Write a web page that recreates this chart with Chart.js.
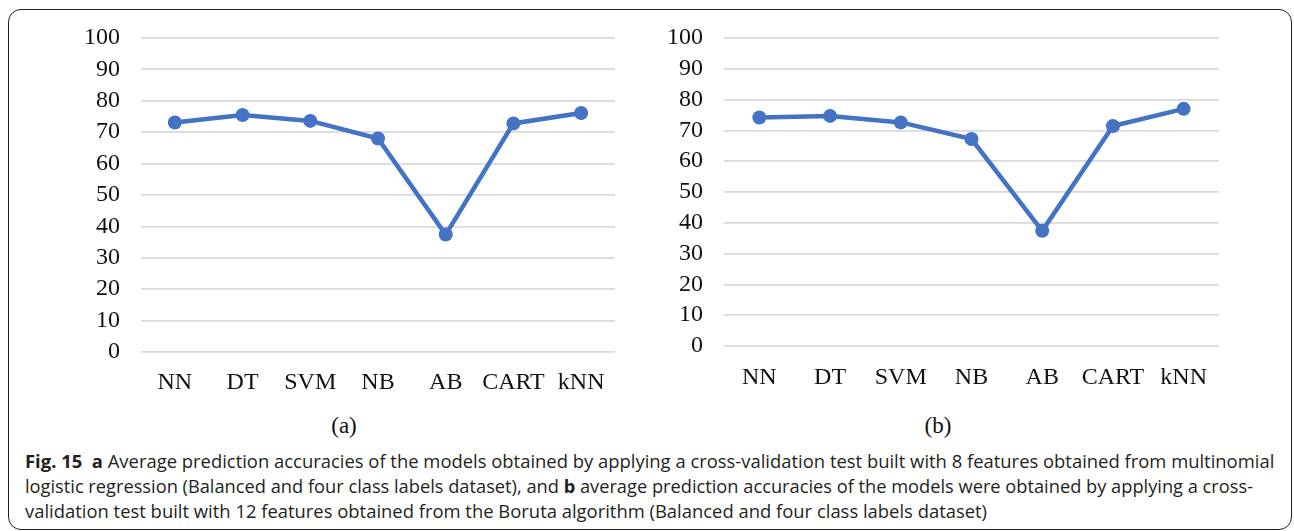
<!DOCTYPE html>
<html>
<head>
<meta charset="utf-8">
<script src="https://cdn.jsdelivr.net/npm/chart.js@4.4.1/dist/chart.umd.min.js"></script>
<style>
  html, body { margin: 0; padding: 0; background: #fff; }
  body { width: 1294px; height: 531px; position: relative; overflow: hidden; }
  .frame {
    position: absolute; left: 8px; top: 9px; width: 1284px; height: 521px;
    border: 1.3px solid #231f20; border-radius: 13px; box-sizing: border-box;
  }
  canvas { position: absolute; top: 0; }
  #chartA { left: 0; }
  #chartB { left: 640px; }
  .sub {
    position: absolute; font-family: "Liberation Serif", serif; font-size: 23px;
    color: #111; transform: translateX(-50%); line-height: 1;
  }
  .cap {
    position: absolute; left: 25px; font-family: "Open Sans", sans-serif; font-size: 17.5px;
    color: #231f20; white-space: nowrap; line-height: 1; transform-origin: 0 0;
  }
  .cap b { font-weight: 700; }
</style>
</head>
<body>
<div class="frame"></div>
<canvas id="chartA" width="640" height="400"></canvas>
<canvas id="chartB" width="654" height="400"></canvas>
<div class="sub" style="left:344px; top:414px;">(a)</div>
<div class="sub" style="left:938px; top:414px;">(b)</div>
<div class="cap" id="l1" style="top:453px;"><b>Fig. 15</b>&nbsp; <b>a</b> Average prediction accuracies of the models obtained by applying a cross-validation test built with 8 features obtained from multinomial</div>
<div class="cap" id="l2" style="top:478px;">logistic regression (Balanced and four class labels dataset), and <b>b</b> average prediction accuracies of the models were obtained by applying a cross-</div>
<div class="cap" id="l3" style="top:503px;">validation test built with 12 features obtained from the Boruta algorithm (Balanced and four class labels dataset)</div>

<script>
// data
const models = ['NN', 'DT', 'SVM', 'NB', 'AB', 'CART', 'kNN'];
const accuracyA = [73.1, 75.5, 73.6, 68.0, 37.4, 72.8, 76.1];
const accuracyB = [74.2, 74.7, 72.6, 67.2, 37.4, 71.4, 77.0];
const yTicks = [0, 10, 20, 30, 40, 50, 60, 70, 80, 90, 100];

const blue = '#4472c4';
const serif = 'Liberation Serif';

function makeChart(id, values, axisWidth, xHeight, right, xPad, yPad) {
  const ctx = document.getElementById(id).getContext('2d');
  return new Chart(ctx, {
    type: 'line',
    data: {
      labels: models,
      datasets: [{
        data: values,
        borderColor: blue,
        backgroundColor: blue,
        borderWidth: 4.5,
        pointRadius: 7,
        pointBorderWidth: 0,
        pointBackgroundColor: blue,
        tension: 0,
      }],
    },
    options: {
      responsive: false,
      animation: false,
      devicePixelRatio: 1,
      layout: { padding: { top: 38, right: right, bottom: 0, left: 0 } },
      plugins: { legend: { display: false }, tooltip: { enabled: false } },
      scales: {
        x: {
          offset: true,
          afterFit: (s) => { s.height = xHeight; },
          grid: { display: false, drawTicks: false },
          border: { display: false },
          ticks: { color: '#111', font: { family: serif, size: 24 }, padding: xPad, maxRotation: 0, autoSkip: false },
        },
        y: {
          min: 0,
          max: 100,
          afterBuildTicks: (s) => { s.ticks = yTicks.map(v => ({ value: v })); },
          afterFit: (s) => { s.width = axisWidth; },
          grid: { color: '#d9d9d9', lineWidth: 1.8, drawTicks: false },
          border: { display: false },
          ticks: { color: '#111', font: { family: serif, size: 24 }, padding: yPad, autoSkip: false },
        },
      },
    },
  });
}

makeChart('chartA', accuracyA, 141, 48, 25, 16, 21);
makeChart('chartB', accuracyB, 84, 54, 75, 17, 21);

// fit the caption lines to the widths in the figure
function fit(id, target) {
  const el = document.getElementById(id);
  const w = el.scrollWidth;
  const k = target / w;
  el.style.transform = 'scaleX(' + k + ')';
  return k;
}
const k1 = fit('l1', 1249);
fit('l2', 1228);
document.getElementById('l3').style.transform = 'scaleX(' + k1 + ')';
</script>
</body>
</html>
